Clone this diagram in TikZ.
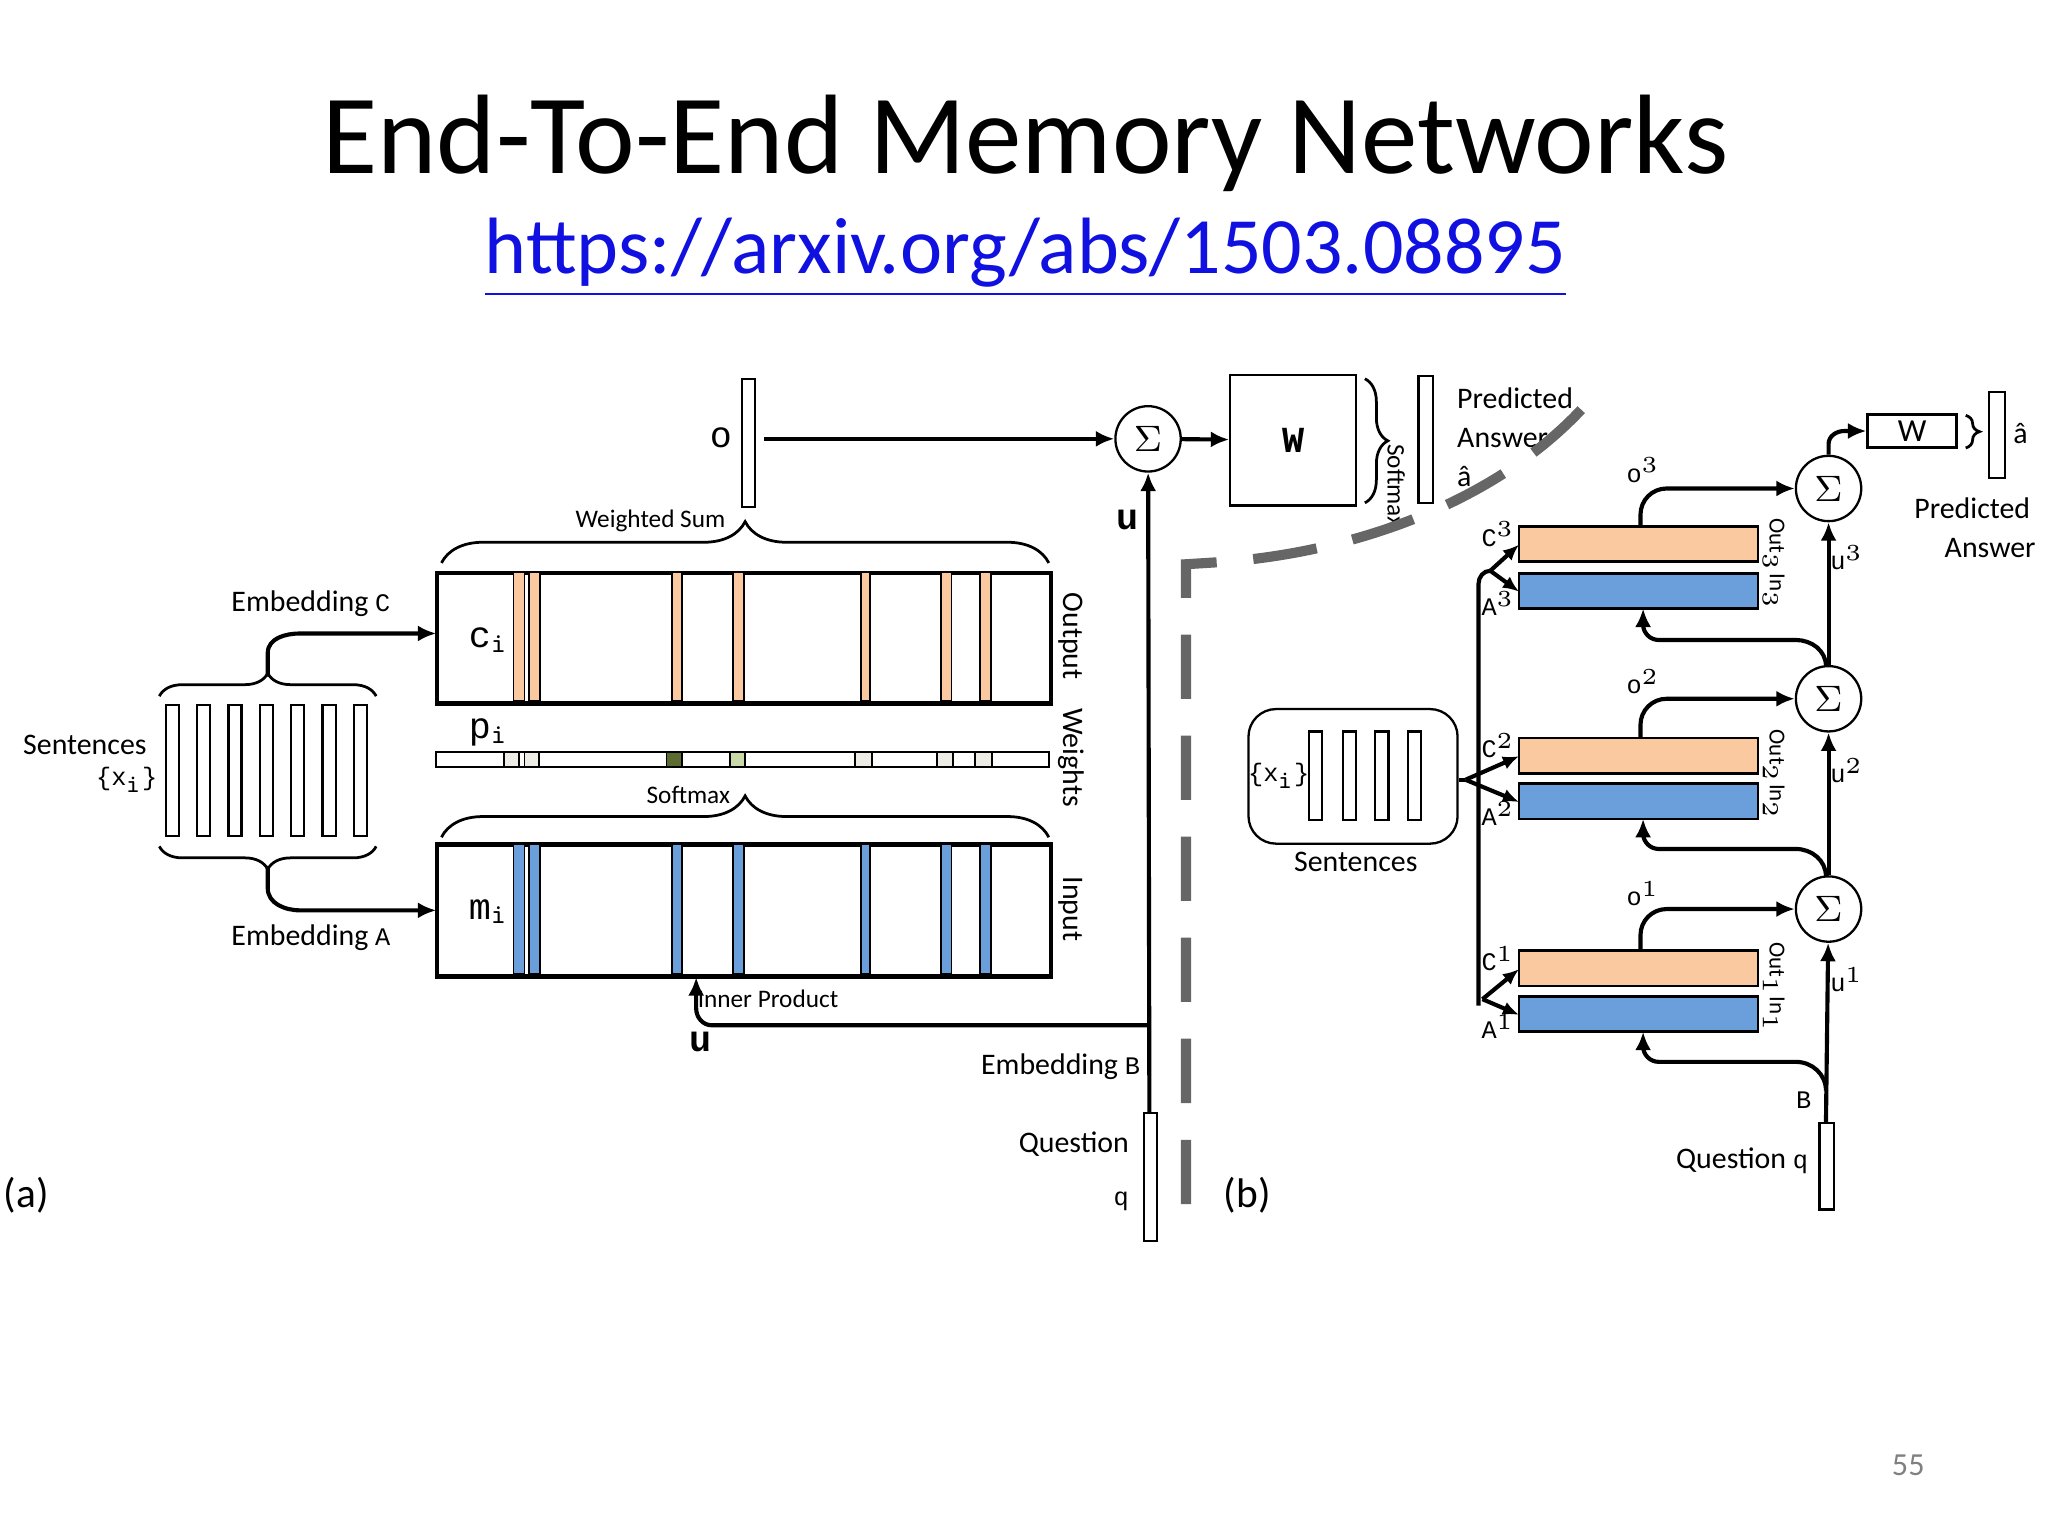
\documentclass[tikz,border=0pt]{standalone}
\usepackage{fontspec}
\setmainfont{Carlito}
\newfontfamily\cour{Liberation Mono}
\usetikzlibrary{decorations.pathreplacing,arrows.meta}
\definecolor{orng}{HTML}{FAC9A0}
\definecolor{blu}{HTML}{6A9FDB}
\definecolor{dgr}{HTML}{5C6B30}
\definecolor{lgr}{HTML}{CAD9A8}
\definecolor{lgy}{HTML}{EDEDE6}
\definecolor{lnk}{HTML}{1010E0}
\begin{document}
\begin{tikzpicture}[x=0.01cm,y=-0.01cm,
  lab/.style={font=\fontsize{6.5}{7.5}\selectfont,inner sep=0pt},
  tl/.style={font=\cour\fontsize{6.5}{7}\selectfont,inner sep=0pt},
  big/.style={font=\cour\fontsize{8}{8}\selectfont,inner sep=0pt},
  sm/.style={font=\cour\fontsize{5.5}{6}\selectfont,inner sep=0pt},
  vec/.style={draw,line width=0.5pt,fill=white},
  arr/.style={line width=0.9pt,-{Latex[length=4pt,width=3.5pt]}},
  ln/.style={line width=0.9pt},
  brc/.style={decorate,line width=0.6pt,decoration={brace,amplitude=#1}},
  sig/.style={draw,circle,minimum size=0.5cm,inner sep=0pt,line width=0.5pt,font=\fontsize{8}{8}\selectfont},
  mem/.style={draw,line width=0.6pt},
  ]
\useasboundingbox (0,0) rectangle (1568,1176);
% title
\node (title) at (785,110) {\fontsize{24.6}{28}\selectfont End-To-End Memory Networks};
\node (link) at (785,197) {\fontsize{17.4}{20}\selectfont\color{lnk}\underline{https://arxiv.org/abs/1503.08895}};
\node[text=gray] (pg) at (1461,1122) {\fontsize{7}{8}\selectfont 55};

% ---------- (a) ----------
\node[lab,font=\fontsize{9}{10}\selectfont] (la) at (20,915) {(a)};
\node[lab,font=\fontsize{9}{10}\selectfont] (lb) at (955,915) {(b)};
% sentences
\foreach \x in {127,151,175,199,223,247,271}{\draw[vec] (\x,540) rectangle (\x+10,640);}
\node[lab] (sent) at (65,570) {Sentences};
\node[sm] (xi) at (97,597) {\{x$_\texttt{i}$\}};
\draw[brc=5pt] (122,533) -- (288,533);
\draw[brc=5pt] (288,648) -- (122,648);
\coordinate (bt) at (205,518);
\coordinate (bb) at (205,663);
% memory boxes
\node[mem,minimum width=4.69cm,minimum height=0.99cm,anchor=north west] (cbox) at (334,438) {};
\node[mem,minimum width=4.69cm,minimum height=1.0cm,anchor=north west] (mbox) at (334,646) {};
\draw[arr] (bt) -- (205,500) to[out=90,in=180] (230,485) -- (cbox.west |- 0,485);
\draw[arr] (bb) -- (205,680) to[out=-90,in=180] (230,697) -- (mbox.west |- 0,697);
\node[lab] (embc) at (238,462) {Embedding {\cour\fontsize{5.5}{6}\selectfont C}};
\node[lab] (emba) at (238,718) {Embedding {\cour\fontsize{5.5}{6}\selectfont A}};
\foreach \a/\b in {393.1/401.6,405/413.6,514.4/522.2,561.5/569.7,658.9/666.4,720.3/728.5,750.4/758.6}{
  \draw[fill=orng,line width=0.4pt] (\a,438) rectangle (\b,537);
  \draw[fill=blu,line width=0.4pt] (\a,646) rectangle (\b,746);}
\draw[mem] (cbox.north west) rectangle (cbox.south east);
\draw[mem] (mbox.north west) rectangle (mbox.south east);
% weights bar
\draw[line width=0.5pt] (334,576) rectangle (803,587);
\foreach \a/\b/\c in {385.6/397.2/lgy,401.6/412.9/lgy,510.3/522.2/dgr,559.1/570.7/lgr,654.4/667.4/lgy,717.6/729.6/lgy,746.7/759.6/lgy}{
  \draw[fill=\c,line width=0.4pt] (\a,576) rectangle (\b,587);}
\node[big] (ci) at (374,490) {c$_\texttt{\fontsize{6}{6}\selectfont i}$};
\node[big] (pi) at (374,561) {p$_\texttt{\fontsize{6}{6}\selectfont i}$};
\node[big] (mi) at (374,698) {m$_\texttt{\fontsize{6}{6}\selectfont i}$};
\node[lab,rotate=-90] (outl) at (820,487) {Output};
\node[lab,rotate=-90] (wl) at (820,580) {Weights};
\node[lab,rotate=-90] (inl) at (820,696) {Input};
\draw[brc=9pt] (338,431) -- (803,431);
\node[lab,font=\fontsize{5.5}{6}\selectfont] (ws) at (498,399) {Weighted Sum};
\draw[brc=9pt] (338,641) -- (803,641);
\node[lab,font=\fontsize{5.5}{6}\selectfont] (smx) at (527,609) {Softmax};
% o vector and top row
\draw[vec] (568,290) rectangle (578,388);
\node[big] (o) at (552,335) {o};
\node[sig] (S) at (879,336) {$\Sigma$};
\draw[arr] (585,336) -- (S);
\node[draw,line width=0.5pt,minimum width=0.96cm,minimum height=1.0cm,font=\cour\bfseries\fontsize{8}{8}\selectfont] (W) at (990,337) {W};
\draw[arr] (S) -- (W);
\draw[brc=5pt] (1045,290) -- (1045,385);
\node[lab,rotate=-90,font=\fontsize{5.5}{6}\selectfont] (smx2) at (1069,372) {Softmax};
\draw[vec] (1086,288) rectangle (1097,385);
\node[lab,anchor=west,align=left] (pa) at (1115,335) {Predicted\\[1pt]Answer\\[1pt]\^{a}};
% question
\draw[vec] (876,852) rectangle (886,950);
\coordinate (qt) at (880,852);
\draw[arr] (qt) -- (S);
\node[big,font=\cour\bfseries\fontsize{8}{8}\selectfont] (u1) at (863,398) {u};
\draw[arr] (880,785) -- (545,785) to[out=180,in=-90] (533,772) -- (mbox.south -| 533,0);
\node[big,font=\cour\bfseries\fontsize{8}{8}\selectfont] (u2) at (536,798) {u};
\node[lab,font=\fontsize{5.5}{6}\selectfont] (ip) at (588,765) {Inner Product};
\node[lab] (embb) at (812,817) {Embedding {\cour\fontsize{5.5}{6}\selectfont B}};
\node[lab,align=right,anchor=east] (ql) at (865,897) {Question\\[4pt]{\cour\fontsize{5.5}{6}\selectfont q}};
% dashed divider
\draw[gray!80!black,line width=2.2pt,dash pattern=on 14pt off 8pt,dash phase=14pt] (908,950) -- (908,432) -- (940,430) .. controls (1060,420) and (1170,370) .. (1228,293);

% ---------- (b) ----------
\node[draw,rounded corners=6pt,line width=0.5pt,minimum width=1.6cm,minimum height=1.03cm,anchor=north west] (sb) at (955,542) {};
\foreach \x in {1002,1028,1053,1078}{\draw[vec] (\x,560) rectangle (\x+10,628);}
\node[sm] (xb) at (979,594) {\{x$_\texttt{i}$\}};
\node[lab] (sl) at (1038,660) {Sentences};
% layers
\foreach \n/\cy/\ay/\sy/\oy in {3/403/439/374/360,2/565/600/535/522,1/728/763/696/684}{
  \draw[fill=orng,line width=0.6pt] (1163,\cy) rectangle (1346,\cy+27);
  \draw[fill=blu,line width=0.6pt] (1163,\ay) rectangle (1346,\ay+27);
  \node[sig] (S\n) at (1400,\sy) {$\Sigma$};
  \draw[arr] (1256,\cy) -- (1256,\sy+20) to[out=90,in=180] (1276,\sy) -- (S\n.west);
  \node[sm] (o\n) at (1258,\oy) {o$^{\fontsize{4.5}{5}\selectfont\n}$};
  \node[sm] (C\n) at (1147,\cy+6) {C$^{\fontsize{4.5}{5}\selectfont\n}$};
  \node[sm] (A\n) at (1147,\ay+23) {A$^{\fontsize{4.5}{5}\selectfont\n}$};
  \node[lab,rotate=-90,font=\fontsize{5}{6}\selectfont] (O\n) at (1358,\cy+14) {Out$_{\fontsize{4}{4}\selectfont\n}$};
  \node[lab,rotate=-90,font=\fontsize{5}{6}\selectfont] (I\n) at (1358,\ay+14) {In$_{\fontsize{4}{4}\selectfont\n}$};
}
\node[sm] (u3l) at (1414,427) {u$^{\fontsize{4.5}{5}\selectfont 3}$};
\node[sm] (u2l) at (1414,590) {u$^{\fontsize{4.5}{5}\selectfont 2}$};
\node[sm] (u1l) at (1414,750) {u$^{\fontsize{4.5}{5}\selectfont 1}$};
% branches
\coordinate (br3) at (1141,437);
\coordinate (br2) at (1122,597);
\coordinate (br1) at (1135,765);
\draw[ln] (1132,770) -- (1132,447) to[out=90,in=180] (br3);
\draw[ln] (sb.east |- br2) -- (br2);
\foreach \n/\cy/\ay in {3/403/439,2/565/600,1/728/763}{
  \draw[ln,-{Latex[length=3.5pt,width=3pt]}] (br\n) -- (1163,\cy+14);
  \draw[ln,-{Latex[length=3.5pt,width=3pt]}] (br\n) -- (1163,\ay+14);
}
% u paths
\draw[arr] (S2) -- (S3);
\draw[arr] (S1) -- (S2);
\draw[arr] (1398,510) to[out=90,in=0] (1375,490) -- (1270,490) to[out=180,in=-90] (1258,478) -- (1258,466);
\draw[arr] (1398,671) to[out=90,in=0] (1375,650) -- (1270,650) to[out=180,in=-90] (1258,638) -- (1258,627);
\draw[vec] (1393,860) rectangle (1404,926);
\coordinate (qb) at (1398,860);
\draw[arr] (qb) -- (S1);
\draw[arr] (1398,835) to[out=90,in=0] (1375,813) -- (1270,813) to[out=180,in=-90] (1258,801) -- (1258,790);
\node[sm] (Bl) at (1381,842) {B};
\node[lab,anchor=east] (qbl) at (1385,889) {Question {\cour\fontsize{5.5}{6}\selectfont q}};
% top output
\node[draw,line width=0.6pt,minimum width=0.68cm,minimum height=0.25cm,font=\fontsize{7}{7}\selectfont,inner sep=0pt] (W2) at (1464,330) {W};
\draw[arr] (S3.north) -- (1400,340) to[out=90,in=180] (1412,330) -- (W2.west);
\draw[brc=3pt] (1505,318) -- (1505,343);
\draw[vec] (1523,300) rectangle (1535,366);
\node[lab] (ah) at (1547,332) {\^{a}};
\node[lab,align=center] (pa2) at (1510,404) {Predicted\\[1pt]\hspace*{1.2em}Answer};
\end{tikzpicture}
\end{document}
